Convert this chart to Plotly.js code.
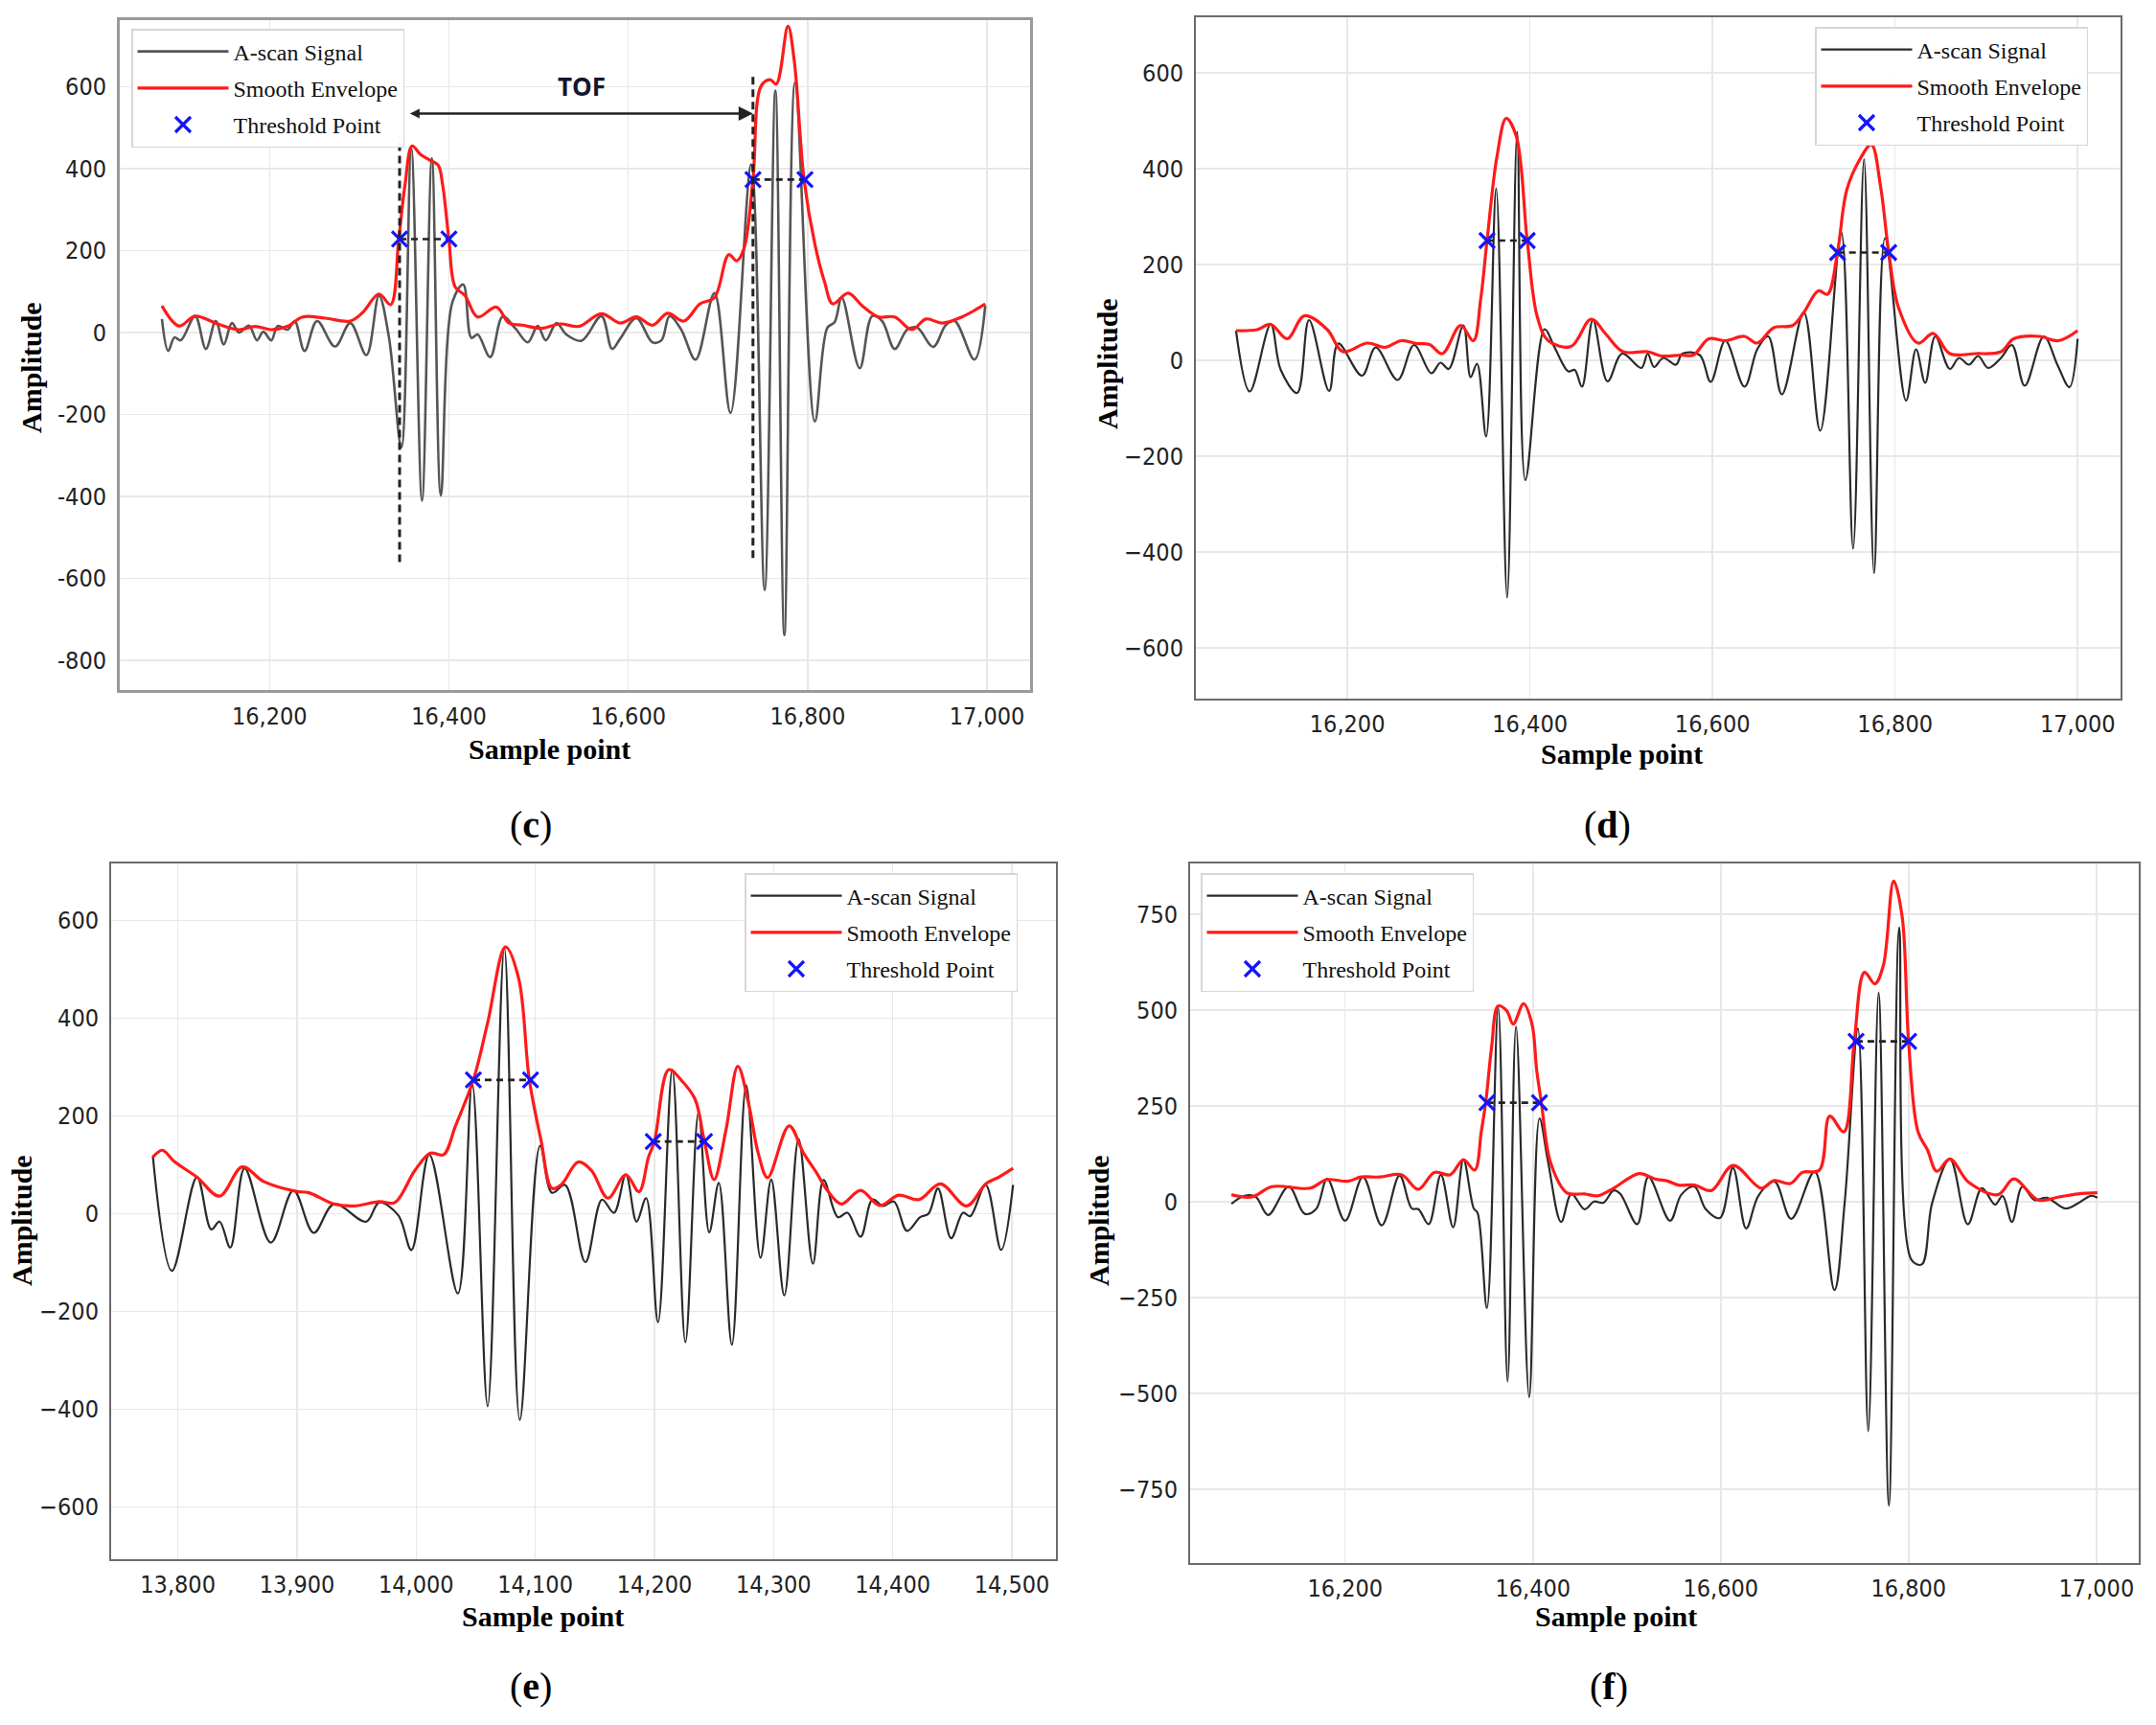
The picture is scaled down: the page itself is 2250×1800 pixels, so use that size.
<!DOCTYPE html>
<html><head><meta charset="utf-8">
<script src="https://cdn.plot.ly/plotly-3.0.1.min.js"></script>
<style>html,body{margin:0;padding:0;background:#fff}#chart{width:2250px;height:1800px}</style>
</head><body><div id="chart"></div>
<script>
// ---------- Panel (c) ----------
const cSigX = [16080,16087,16094,16101,16117,16129,16140,16149,16158,16166,16177,16186,16193,16202,16209,16220,16228,16239,16253,16273,16290,16308,16322,16333,16347,16358,16370,16381,16391,16404,16416,16425,16432,16446,16460,16474,16488,16499,16508,16520,16531,16548,16570,16582,16591,16609,16627,16637,16646,16659,16675,16696,16714,16737,16752,16764,16774,16786,16808,16822,16830,16838,16858,16872,16883,16897,16911,16922,16940,16954,16964,16986,16998];
const cSigY = [33,-45,-12,-19,40,-40,28,-29,23,0,17,-19,2,-19,16,7,28,-45,28,-34,23,-55,90,-10,-280,450,-410,425,-398,75,117,-13,-5,-60,39,10,-24,16,-19,23,-5,-20,40,-40,-15,35,-24,-19,40,7,-66,96,-196,410,-628,590,-738,610,-217,12,25,85,-87,40,28,-40,7,12,-35,18,28,-66,65];
const cEnvX = [16080,16099,16117,16142,16166,16184,16202,16220,16237,16262,16290,16304,16322,16335,16344,16351,16359,16368,16379,16388,16393,16400,16407,16418,16432,16453,16467,16482,16503,16524,16545,16570,16591,16609,16627,16644,16662,16680,16696,16712,16721,16729,16739,16748,16758,16765,16778,16785,16796,16808,16819,16828,16845,16861,16879,16897,16916,16932,16950,16972,16998];
const cEnvY = [65,16,40,21,7,15,7,15,38,35,28,49,94,68,226,360,455,435,420,408,360,226,111,90,38,62,23,18,10,21,15,46,23,38,18,47,28,70,85,190,175,205,372,601,617,606,747,664,372,216,122,70,96,65,38,38,7,33,23,38,70];
const cThrX = [16345,16400,16739,16797];
const cThrY = [228,228,373,373];
// TOF marking lines in panel (c)
const tofLineX = [16345,16739];
const tofLineBottom = [-560,-550];
const tofLineTop = [478,624];
const tofArrowY = 534;
const tofLabel = {text:'TOF', x:16548, y:600};

// ---------- Panel (d) ----------
const dSigX = [16078,16093,16116,16127,16145,16158,16180,16190,16216,16231,16255,16273,16292,16302,16311,16327,16335,16342,16352,16363,16375,16386,16395,16416,16427,16442,16449,16457,16469,16485,16501,16522,16529,16536,16546,16560,16567,16586,16598,16614,16635,16649,16661,16676,16700,16718,16741,16754,16766,16777,16789,16812,16823,16833,16844,16860,16870,16881,16891,16902,16916,16928,16942,16963,16978,16991,17000];
const dSigY = [62,-65,75,-20,-68,84,-64,35,-32,27,-41,32,-27,-5,-18,73,-35,-7,-159,359,-495,477,-250,65,27,-23,-20,-55,84,-44,14,-16,14,-14,5,-9,14,11,-45,41,-55,23,50,-71,100,-147,268,-393,420,-444,255,-84,23,-47,50,-18,5,-9,9,-16,5,32,-53,50,-10,-56,45];
const dEnvX = [16078,16101,16116,16134,16153,16178,16195,16222,16241,16259,16276,16290,16304,16324,16338,16346,16353,16364,16374,16385,16397,16408,16420,16445,16467,16483,16502,16529,16544,16565,16579,16596,16614,16635,16649,16667,16688,16700,16716,16726,16737,16747,16761,16774,16784,16793,16804,16825,16842,16860,16888,16916,16930,16958,16979,17000];
const dEnvY = [62,64,75,45,93,64,18,36,27,41,35,33,14,73,41,127,250,427,505,468,250,91,41,29,86,55,18,18,9,11,11,45,41,50,36,68,73,100,145,138,227,355,418,450,364,227,109,36,56,14,14,18,45,50,41,62];
const dThrX = [16353,16397,16737,16793];
const dThrY = [250,250,225,225];

// ---------- Panel (e) ----------
const eSigX = [13779,13795,13816,13828,13835,13844,13856,13878,13897,13914,13931,13958,13969,13985,13996,14011,14035,14047,14060,14074,14087,14104,14114,14125,14142,14156,14166,14176,14185,14193,14203,14215,14226,14237,14246,14254,14265,14277,14289,14298,14309,14321,14333,14342,14354,14362,14373,14383,14392,14401,14412,14423,14430,14438,14449,14459,14465,14478,14491,14501];
const eSigY = [118,-117,75,-32,-16,-69,93,-59,48,-39,20,-16,23,-3,-74,121,-163,267,-394,544,-422,139,43,59,-99,29,2,80,-16,32,-222,295,-263,208,-38,63,-268,263,-90,70,-167,153,-102,69,-7,2,-47,29,16,25,-35,-7,0,52,-50,2,-5,59,-74,59];
const eEnvX = [13779,13787,13797,13816,13835,13854,13872,13899,13910,13931,13948,13969,13982,13999,14012,14023,14033,14048,14060,14075,14086,14095,14105,14114,14122,14136,14147,14161,14176,14187,14195,14200,14212,14223,14234,14242,14250,14260,14270,14279,14287,14295,14313,14325,14336,14345,14357,14373,14389,14405,14422,14440,14462,14478,14489,14501];
const eEnvY = [116,130,107,75,36,96,66,46,43,20,16,25,23,89,124,121,180,274,391,546,482,274,148,52,60,106,89,32,80,45,116,148,295,272,235,148,70,171,302,226,125,74,180,125,84,48,20,48,17,38,29,61,16,61,75,93];
const eThrX = [14048,14096,14199,14242];
const eThrY = [274,274,148,148];

// ---------- Panel (f) ----------
const fSigX = [16079,16093,16105,16118,16140,16157,16169,16181,16200,16219,16239,16258,16271,16278,16289,16302,16315,16326,16337,16341,16351,16363,16373,16382,16396,16407,16416,16430,16441,16455,16465,16475,16486,16493,16511,16523,16546,16558,16572,16584,16599,16613,16627,16640,16657,16675,16700,16721,16732,16746,16757,16768,16779,16790,16803,16814,16825,16844,16863,16878,16892,16900,16910,16921,16934,16947,16967,16980,16994,17001];
const fSigY = [-6,15,12,-35,39,-32,-20,59,-50,64,-62,68,-18,-20,-59,70,-67,109,-18,-29,-278,507,-469,457,-510,217,105,-53,20,-20,0,-3,29,20,-59,64,-50,18,39,-20,-43,88,-70,15,53,-45,78,-231,0,451,-599,545,-793,715,-152,-164,-4,111,-59,35,-8,15,-53,39,4,10,-18,-5,15,10];
const fEnvX = [16079,16101,16122,16163,16180,16203,16217,16237,16260,16278,16295,16312,16326,16338,16345,16350,16356,16363,16372,16379,16390,16399,16404,16409,16419,16436,16455,16469,16486,16513,16530,16544,16555,16572,16590,16613,16643,16657,16674,16687,16705,16716,16731,16742,16753,16764,16773,16784,16793,16800,16810,16820,16830,16844,16864,16895,16912,16938,16960,16980,17001];
const fEnvY = [18,12,39,35,57,53,64,64,70,32,76,70,109,82,182,264,403,510,498,463,516,463,343,258,100,23,20,15,35,73,59,53,43,43,29,94,35,55,47,76,82,223,182,415,598,568,615,836,745,415,182,135,79,111,50,18,59,4,12,20,23];
const fThrX = [16351,16407,16744,16800];
const fThrY = [258,258,418,418];

// ---------- tick labels ----------
const xTicksC = [16200,16400,16600,16800,17000];
const yTicksC = [-800,-600,-400,-200,0,200,400,600];
const yTickTextC = ['-800','-600','-400','-200','0','200','400','600'];
const yTicksD = [-600,-400,-200,0,200,400,600];
const xTicksE = [13800,13900,14000,14100,14200,14300,14400,14500];
const yTicksE = [-600,-400,-200,0,200,400,600];
const yTicksF = [-750,-500,-250,0,250,500,750];
const legendNames = ['A-scan Signal','Smooth Envelope','Threshold Point'];
const panelLabels = ['c','d','e','f'];

// ---------- layout helpers ----------
const W = 2250, H = 1800;
const px = v => v / W;
const py = v => 1 - v / H;

function panelTraces(n, sx, sy, ex, ey, tx, ty, sigColor, sigWidth) {
  const sfx = n === 1 ? '' : String(n);
  const xa = 'x' + sfx, ya = 'y' + sfx, lg = 'legend' + sfx;
  return [
    {type:'scatter', mode:'lines', x:sx, y:sy, xaxis:xa, yaxis:ya, name:legendNames[0],
     legend:lg, legendgroup:'s'+n, line:{color:sigColor, width:sigWidth, shape:'spline', smoothing:1}},
    {type:'scatter', mode:'lines', x:ex, y:ey, xaxis:xa, yaxis:ya, name:legendNames[1],
     legend:lg, legendgroup:'e'+n, line:{color:'#ff1a1a', width:3.2, shape:'spline', smoothing:1}},
    {type:'scatter', mode:'lines', x:[tx[0],tx[1],null,tx[2],tx[3]], y:[ty[0],ty[1],null,ty[2],ty[3]],
     xaxis:xa, yaxis:ya, showlegend:false, hoverinfo:'skip',
     line:{color:'#222', width:2.6, dash:'7px,5px'}},
    {type:'scatter', mode:'markers', x:tx, y:ty, xaxis:xa, yaxis:ya, name:legendNames[2],
     legend:lg, legendgroup:'t'+n,
     marker:{symbol:'x-thin', size:16, color:'#1414ff', line:{color:'#1414ff', width:3.2}}}
  ];
}

const data = [].concat(
  panelTraces(1, cSigX, cSigY, cEnvX, cEnvY, cThrX, cThrY, '#555555', 2.6),
  panelTraces(2, dSigX, dSigY, dEnvX, dEnvY, dThrX, dThrY, '#2a2a2a', 2.2),
  panelTraces(3, eSigX, eSigY, eEnvX, eEnvY, eThrX, eThrY, '#2a2a2a', 2.2),
  panelTraces(4, fSigX, fSigY, fEnvX, fEnvY, fThrX, fThrY, '#2a2a2a', 2.2)
);

const tickFont = {family:"'Liberation Sans Narrow','Arial Narrow','DejaVu Sans Condensed',sans-serif", size:25, color:'#222'};
function axis(domain, range, extra) {
  return Object.assign({
    domain: domain, range: range, autorange:false,
    showgrid:true, gridcolor:'#e8e8e8', gridwidth:1.5, zeroline:false,
    showline:true, mirror:true, linecolor:'#6b6b6b', linewidth:2,
    ticks:'', ticklabelstandoff:3, tickfont:tickFont
  }, extra);
}

const boxC = {l:125, r:1075, t:21, b:720};
const boxD = {l:1248, r:2213, t:18, b:729};
const boxE = {l:116, r:1102, t:901, b:1627};
const boxF = {l:1242, r:2232, t:901, b:1631};
const dom = b => ({x:[px(b.l), px(b.r)], y:[py(b.b), py(b.t)]});

const legendBase = {
  xref:'paper', yref:'paper', xanchor:'left', yanchor:'top',
  bgcolor:'rgba(255,255,255,0.95)', bordercolor:'#d6d6d6', borderwidth:1.5,
  font:{family:"'Liberation Serif','Times New Roman',serif", size:24, color:'#111'},
  itemwidth:95, tracegroupgap:4
};

const titleFont = {family:"'Liberation Serif','Times New Roman',serif", size:30, color:'#000'};
const annotations = [];
const titlePos = [
  {sx:573, sy:781, ax:32, ay:384},
  {sx:1692, sy:786, ax:1155, ay:380},
  {sx:566, sy:1686, ax:22, ay:1274},
  {sx:1686, sy:1686, ax:1146, ay:1274}
];
const labelPos = [[554,861],[1677,861],[554,1759],[1679,1759]];
titlePos.forEach((p, i) => {
  annotations.push({xref:'paper', yref:'paper', x:px(p.sx), y:py(p.sy), text:'<b>Sample point</b>',
    showarrow:false, font:titleFont, xanchor:'center', yanchor:'middle'});
  annotations.push({xref:'paper', yref:'paper', x:px(p.ax), y:py(p.ay), text:'<b>Amplitude</b>',
    showarrow:false, font:titleFont, textangle:-90, xanchor:'center', yanchor:'middle'});
  annotations.push({xref:'paper', yref:'paper', x:px(labelPos[i][0]), y:py(labelPos[i][1]),
    text:'(<b>' + panelLabels[i] + '</b>)', showarrow:false,
    font:{family:"'Liberation Serif','Times New Roman',serif", size:40, color:'#000'},
    xanchor:'center', yanchor:'middle'});
});
// TOF arrow and label (panel c)
annotations.push({xref:'x', yref:'y', axref:'x', ayref:'y', x:tofLineX[1], y:tofArrowY,
  ax:tofLineX[0] + 10, ay:tofArrowY, text:'', showarrow:true, arrowside:'end+start',
  arrowhead:2, startarrowhead:2, arrowsize:1.2, startarrowsize:0.8, arrowwidth:2.5, arrowcolor:'#222'});
annotations.push({xref:'x', yref:'y', x:tofLabel.x, y:tofLabel.y, text:'<b>' + tofLabel.text + '</b>',
  showarrow:false, font:{family:"'Open Sans','Liberation Sans',sans-serif", size:26, color:'#15162b'}});

const shapes = tofLineX.map((xv, i) => ({
  type:'line', xref:'x', yref:'y', x0:xv, x1:xv, y0:tofLineBottom[i], y1:tofLineTop[i],
  line:{color:'#222', width:3, dash:'8px,5px'}
}));

const layout = {
  width:W, height:H, margin:{l:0, r:0, t:0, b:0},
  paper_bgcolor:'#fff', plot_bgcolor:'#fff', showlegend:true,
  xaxis: axis(dom(boxC).x, [16033,17048], {anchor:'y', tickvals:xTicksC, tickformat:',d'}),
  yaxis: axis(dom(boxC).y, [-872,762], {anchor:'x', tickvals:yTicksC, ticktext:yTickTextC, linecolor:'#9a9a9a', linewidth:3, ticklabelstandoff:6}),
  xaxis2: axis(dom(boxD).x, [16034,17047], {anchor:'y2', tickvals:xTicksC, tickformat:',d'}),
  yaxis2: axis(dom(boxD).y, [-706,716], {anchor:'x2', tickvals:yTicksD, ticklabelstandoff:6}),
  xaxis3: axis(dom(boxE).x, [13744,14537], {anchor:'y3', tickvals:xTicksE, tickformat:',d'}),
  yaxis3: axis(dom(boxE).y, [-707,717], {anchor:'x3', tickvals:yTicksE, ticklabelstandoff:6}),
  xaxis4: axis(dom(boxF).x, [16035,17045], {anchor:'y4', tickvals:xTicksC, tickformat:',d'}),
  yaxis4: axis(dom(boxF).y, [-943,882], {anchor:'x4', tickvals:yTicksF, ticklabelstandoff:6}),
  legend: Object.assign({}, legendBase, {x:px(137), y:py(30)}),
  legend2: Object.assign({}, legendBase, {x:px(1894), y:py(28)}),
  legend3: Object.assign({}, legendBase, {x:px(777), y:py(911)}),
  legend4: Object.assign({}, legendBase, {x:px(1253), y:py(911)}),
  annotations: annotations,
  shapes: shapes
};
layout.xaxis.linecolor = '#9a9a9a'; layout.xaxis.linewidth = 3;

Plotly.newPlot('chart', data, layout, {staticPlot:true, displayModeBar:false});
</script></body></html>
